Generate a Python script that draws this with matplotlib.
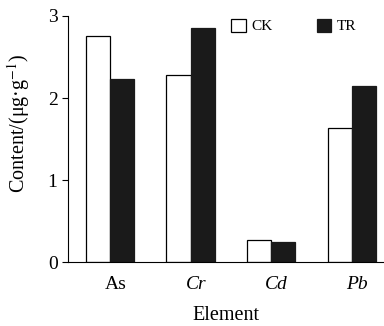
import numpy as np
import matplotlib.pyplot as plt

elements = ["As", "Cr", "Cd", "Pb"]
ck = [2.76, 2.28, 0.27, 1.63]
tr = [2.23, 2.85, 0.24, 2.15]

plt.rcParams["font.family"] = ["Liberation Serif", "DejaVu Serif"]
plt.rcParams["mathtext.fontset"] = "stix"

fig = plt.figure(figsize=(3.84, 3.26), dpi=100)
ax = fig.add_axes([0.177, 0.196, 0.823, 0.755])

x = np.arange(len(elements))
w = 0.3
ax.bar(x - w / 2, ck, w, color="white", edgecolor="black", linewidth=0.9, label="CK")
ax.bar(x + w / 2, tr, w, color="#1a1a1a", edgecolor="#1a1a1a", linewidth=0.9, label="TR")

ax.set_xlim(-0.52, 3.4)
ax.set_ylim(0, 3)
ax.set_yticks([0, 1, 2, 3])
ax.set_xticks(x + 0.07)
ax.set_xticklabels(elements, fontsize=14)
for lbl, it in zip(ax.get_xticklabels(), [False, True, True, True]):
    if it:
        lbl.set_fontstyle("italic")
ax.tick_params(axis="x", length=0, pad=10)
ax.tick_params(axis="y", labelsize=14, length=4, width=0.8, direction="out")

for s in ["top", "right"]:
    ax.spines[s].set_visible(False)
for s in ["left", "bottom"]:
    ax.spines[s].set_linewidth(0.8)

ax.set_ylabel("Content/(μg·g$^{-1}$)", fontsize=14.5)
ax.yaxis.set_label_coords(-0.115, 0.565)
ax.set_xlabel("Element", fontsize=14.5, labelpad=9.5)

ax.legend(loc="upper right", bbox_to_anchor=(0.955, 1.045), ncol=2, frameon=False,
          fontsize=11, handlelength=0.95, handleheight=0.95, columnspacing=2.9,
          handletextpad=0.35)

fig.savefig("out.png", dpi=100)
